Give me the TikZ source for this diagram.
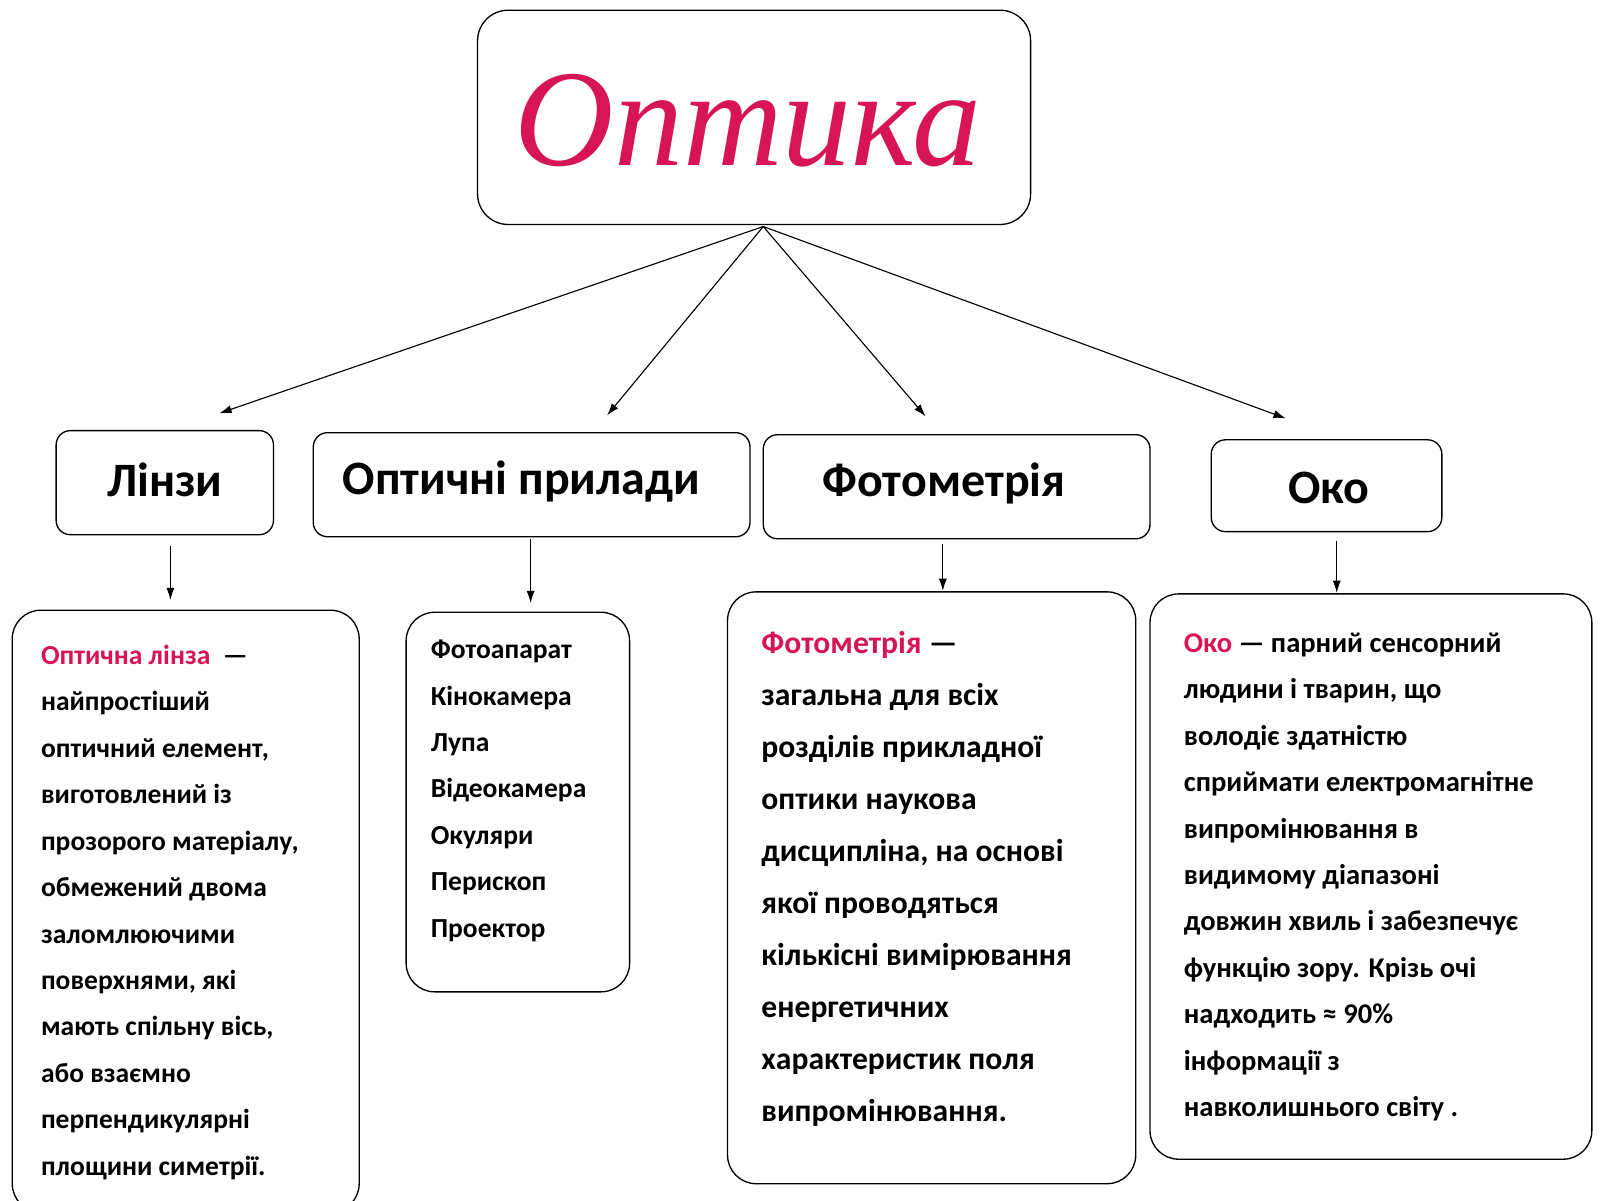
\documentclass[tikz,border=0pt]{standalone}
\usepackage{fontspec}
\usetikzlibrary{arrows.meta}
\setmainfont{Carlito}
\newfontfamily\titlefont{Liberation Serif}
\definecolor{crim}{RGB}{215,20,85}
\begin{document}
\begin{tikzpicture}[x=1pt,y=-1pt,
  box/.style={draw,line width=1.3pt,rounded corners=14pt},
  big/.style={box,rounded corners=28pt},
  head/.style={font=\fontsize{47}{50}\selectfont\bfseries},
  body/.style={anchor=north west,align=left,inner sep=0pt},
  arr/.style={-{Latex[length=12pt,width=8pt]},line width=1.1pt}]
\useasboundingbox (0,0) rectangle (1568,1176);
\node[box,rounded corners=30pt,minimum width=542pt,minimum height=210pt] (t) at (739,115) {};
\node[text=crim,font=\titlefont\itshape\fontsize{135}{140}\selectfont] at (733,118) {Оптика};
\node[box,minimum width=213pt,minimum height=102pt] (a) at (161.5,473) {};
\node[head] at (161.5,470) {Лінзи};
\node[box,minimum width=428pt,minimum height=102pt] (b) at (521,475) {};
\node[head] at (511,472) {Оптичні прилади};
\node[box,minimum width=379pt,minimum height=102pt] (c) at (937.5,477) {};
\node[head] at (925,474) {Фотометрія};
\node[box,minimum width=226pt,minimum height=90pt] (d) at (1300,476) {};
\node[head] at (1302,478) {Око};
\coordinate (top) at (748,222);
\coordinate (ta) at (215,405);\coordinate (tb) at (595,407);
\coordinate (tc) at (907,408);\coordinate (td) at (1260,410);
\foreach \p in {ta,tb,tc,td} \draw[arr] (top) -- (\p);
\node[big,minimum width=340pt,minimum height=590pt] (A) at (182,893) {};
\node[big,minimum width=219pt,minimum height=372pt] (B) at (507.5,786) {};
\node[big,minimum width=400pt,minimum height=580pt] (C) at (913,870) {};
\node[big,minimum width=433pt,minimum height=554pt] (D) at (1343.5,859) {};
\draw[arr] (167,535) -- (167,588);
\draw[arr] (520,528) -- (520,591);
\draw[arr] (924,533) -- (924,579);
\draw[arr] (1310,530) -- (1310,581);
\node[body,font=\fontsize{27}{45.5}\selectfont\bfseries] at (40,632) {\textcolor{crim}{Оптична лінза}\ \ —\\найпростіший\\оптичний елемент,\\виготовлений із\\прозорого матеріалу,\\обмежений двома\\заломлюючими\\поверхнями, які\\мають спільну вісь,\\або взаємно\\перпендикулярні\\площини симетрії.};
\node[body,font=\fontsize{27}{45.5}\selectfont\bfseries] at (422,627) {Фотоапарат\\Кінокамера\\Лупа\\Відеокамера\\Окуляри\\Перископ\\Проектор};
\node[body,font=\fontsize{31}{51}\selectfont\bfseries] at (746,618) {\textcolor{crim}{Фотометрія} —\\загальна для всіх\\розділів прикладної\\оптики наукова\\дисципліна, на основі\\якої проводяться\\кількісні вимірювання\\енергетичних\\характеристик поля\\випромінювання.};
\node[body,font=\fontsize{28}{45.5}\selectfont\bfseries] at (1160,620) {\textcolor{crim}{Око} — парний сенсорний\\людини і тварин, що\\володіє здатністю\\сприймати електромагнітне\\випромінювання в\\видимому діапазоні\\довжин хвиль і забезпечує\\функцію зору. Крізь очі\\надходить ≈ 90\%\\інформації з\\навколишнього світу .};
\end{tikzpicture}
\end{document}
